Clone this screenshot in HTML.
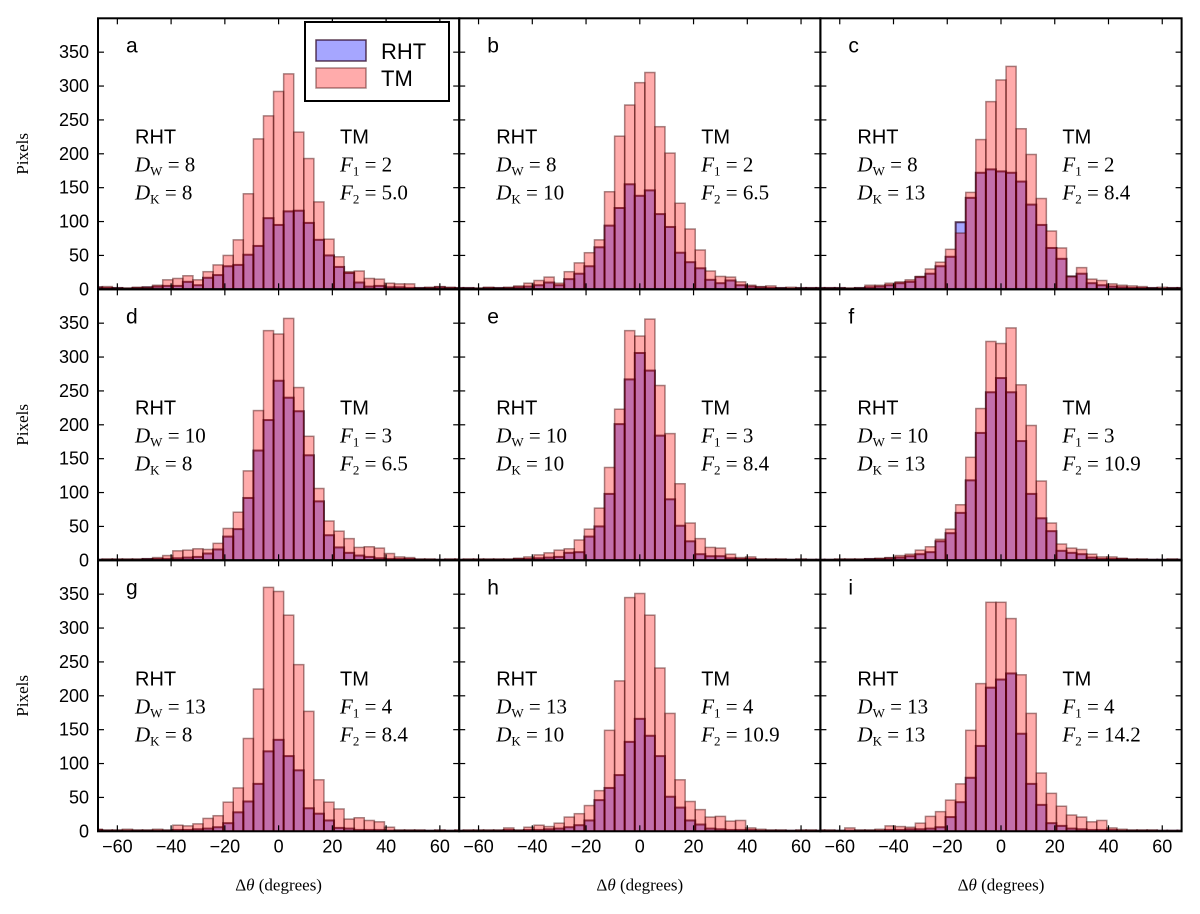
<!DOCTYPE html>
<html><head><meta charset="utf-8"><style>
html,body{margin:0;padding:0;background:#fff;}
svg{display:block;font-family:"Liberation Sans",sans-serif;}
</style></head><body>
<svg id="fig" width="1200" height="914" viewBox="0 0 1200 914" xmlns="http://www.w3.org/2000/svg"></svg>
<script>
const binCenters = Array.from({length:37},(_,i)=>(i-18)*3.75);
const tmA=[3,4,2,2,3,3,6,14,16,20,14,26,36,50,73,141,222,256,292,318,232,193,129,74,48,26,27,16,15,9,8,8,2,3,4,3,2];
const rhtA=[3,2,2,1,2,3,4,5,5,11,6,17,21,34,36,51,64,105,95,115,116,98,73,50,33,24,10,4,5,3,3,2,2,2,3,2,2];
const tmB=[2,2,2,3,2,3,5,9,13,18,9,26,39,54,73,144,226,272,305,320,240,201,127,89,58,27,19,18,11,6,4,5,2,3,2,2,2];
const rhtB=[2,2,1,2,2,2,3,4,6,10,6,15,23,34,62,94,120,155,138,146,111,92,54,40,31,14,9,13,6,4,3,2,2,1,2,2,2];
const tmC=[2,2,2,2,2,6,6,9,11,14,19,30,40,59,83,143,221,277,309,329,237,199,134,86,61,19,32,15,13,8,6,5,4,2,3,2,2];
const rhtC=[2,2,2,1,2,3,4,6,9,11,18,23,34,48,99,135,172,177,174,172,159,125,95,61,45,19,23,9,6,4,3,2,2,2,1,2,2];
const tmD=[1,2,2,2,2,2,4,7,14,15,17,16,25,47,71,132,221,339,334,357,255,183,106,58,43,32,19,20,18,10,5,4,2,2,1,2,2];
const rhtD=[1,1,1,1,1,2,2,2,3,4,5,10,16,35,46,92,162,207,265,240,220,155,87,37,19,11,7,5,3,2,2,2,1,1,1,1,1];
const tmE=[1,2,2,2,2,2,3,5,8,11,15,17,30,46,77,137,223,339,331,356,258,187,113,55,32,19,18,9,4,5,2,2,2,1,2,1,1];
const rhtE=[1,1,1,1,1,1,2,2,3,4,5,11,12,35,50,98,201,267,306,280,184,90,51,28,9,6,6,3,2,2,1,1,1,1,1,1,1];
const tmF=[1,1,2,2,2,2,3,4,7,9,15,20,31,46,82,152,224,323,320,343,259,199,117,55,24,18,16,9,5,5,3,2,2,1,1,2,1];
const rhtF=[1,1,1,1,1,2,2,3,4,6,9,12,28,40,70,118,188,248,269,248,176,98,62,43,14,11,9,4,2,2,2,1,1,1,1,1,1];
const tmG=[3,2,2,3,2,2,3,2,9,8,11,19,23,43,64,137,210,360,354,319,246,177,76,43,33,18,20,16,14,6,2,2,2,1,2,1,2];
const rhtG=[2,1,1,1,1,1,1,1,2,2,3,4,6,12,28,44,70,118,135,111,90,34,26,16,5,4,2,2,2,1,1,1,1,1,1,1,1];
const tmH=[1,2,2,2,2,5,2,6,9,7,12,21,26,38,60,149,222,345,351,319,241,174,76,44,32,21,22,15,16,5,3,2,2,1,2,2,1];
const rhtH=[1,1,1,1,1,2,1,2,2,3,4,6,9,16,46,64,83,132,166,141,111,51,35,16,10,4,3,2,2,2,1,1,1,1,1,1,1];
const tmI=[2,2,1,5,2,2,3,8,7,6,12,22,29,46,70,149,218,338,338,314,231,174,86,56,37,24,21,14,16,5,3,2,2,2,1,1,1];
const rhtI=[1,1,1,1,1,1,1,2,2,3,3,4,6,21,43,79,126,212,224,233,144,70,39,12,8,4,3,2,2,2,1,1,1,1,1,1,1];
const panelLetters=["a","b","c","d","e","f","g","h","i"];
const dW=["8","8","8","10","10","10","13","13","13"];
const dK=["8","10","13","8","10","13","8","10","13"];
const f1=["2","2","2","3","3","3","4","4","4"];
const f2=["5.0","6.5","8.4","6.5","8.4","10.9","8.4","10.9","14.2"];
const tmSeries=[tmA,tmB,tmC,tmD,tmE,tmF,tmG,tmH,tmI];
const rhtSeries=[rhtA,rhtB,rhtC,rhtD,rhtE,rhtF,rhtG,rhtH,rhtI];
const xTicks=[-60,-40,-20,0,20,40,60];
const yTicks=[0,50,100,150,200,250,300,350];

const NS="http://www.w3.org/2000/svg";
const svg=document.getElementById('fig');
function mk(tag,attrs,parent){const e=document.createElementNS(NS,tag);for(const k in attrs)e.setAttribute(k,attrs[k]);(parent||svg).appendChild(e);return e;}
const L0=98,PW=361.2,T0=18.3,PH=271,BW=3.75,XMIN=-67.2,XMAX=67.2,YMAX=400;
const defs=mk('defs',{});
for(let p=0;p<9;p++){
  const col=p%3,row=Math.floor(p/3);
  const left=L0+col*PW,top=T0+row*PH;
  const xs=v=>left+(v-XMIN)/(XMAX-XMIN)*PW;
  const ys=v=>top+PH-v/YMAX*PH;
  const cp=mk('clipPath',{id:'cp'+p},defs);
  mk('rect',{x:left,y:top,width:PW,height:PH},cp);
  const g=mk('g',{'clip-path':'url(#cp'+p+')'});
  
  
  const rh=rhtSeries[p],tm=tmSeries[p];
  binCenters.forEach((c,i)=>{
    const r=mk('rect',{x:xs(c-BW/2),y:ys(rh[i]),width:xs(c+BW/2)-xs(c-BW/2),height:ys(0)-ys(rh[i]),fill:'rgba(0,0,255,0.35)',stroke:'rgba(40,0,30,0.75)','stroke-width':2},g);
    
    
  });
  binCenters.forEach((c,i)=>{
    const r=mk('rect',{x:xs(c-BW/2),y:ys(tm[i]),width:xs(c+BW/2)-xs(c-BW/2),height:ys(0)-ys(tm[i]),fill:'rgba(255,0,0,0.33)',stroke:'rgba(60,0,0,0.45)','stroke-width':1.5},g);
    
    
  });
  xTicks.forEach(t=>{
    mk('line',{x1:xs(t),x2:xs(t),y1:top+PH,y2:top+PH-6,stroke:'#000','stroke-width':1.2});
    mk('line',{x1:xs(t),x2:xs(t),y1:top,y2:top+6,stroke:'#000','stroke-width':1.2});
    if(row===2){const tx=mk('text',{x:xs(t),y:top+PH+21,'text-anchor':'middle','font-size':18});tx.textContent=(t<0?'\u2212':'')+Math.abs(t);
      }
  });
  yTicks.forEach(t=>{
    mk('line',{x1:left,x2:left+6,y1:ys(t),y2:ys(t),stroke:'#000','stroke-width':1.2});
    mk('line',{x1:left+PW,x2:left+PW-6,y1:ys(t),y2:ys(t),stroke:'#000','stroke-width':1.2});
    if(col===0){const tx=mk('text',{x:left-9,y:ys(t)+6,'text-anchor':'end','font-size':18});tx.textContent=t;
      }
  });
  const fr=mk('rect',{x:left,y:top,width:PW,height:PH,fill:'none',stroke:'#000','stroke-width':2});
  
  const lt=mk('text',{x:left+28,y:top+34,'font-size':21});lt.textContent=panelLetters[p];
  
  const r1=mk('text',{x:left+37,y:top+125,'font-size':20});r1.textContent='RHT';
  
  const t1=mk('text',{x:left+242,y:top+125,'font-size':20});t1.textContent='TM';
  
  const addEq=(x,y,sym,sub,val,nm)=>{
    const t=mk('text',{x:x,y:y,'font-size':21,'font-family':'"Liberation Serif",serif'});
    
    const a=mk('tspan',{'font-style':'italic'},t);a.textContent=sym;
    const b=mk('tspan',{'font-size':13,dy:4},t);b.textContent=sub;
    const c=mk('tspan',{dy:-4},t);c.textContent=' = '+val;
  };
  addEq(left+37,top+153,'D','W',dW[p],'dw-label');
  addEq(left+37,top+181,'D','K',dK[p],'dk-label');
  addEq(left+242,top+153,'F','1',f1[p],'f1-label');
  addEq(left+242,top+181,'F','2',f2[p],'f2-label');
  if(row===2){const xl=mk('text',{x:left+PW/2,y:top+PH+59,'text-anchor':'middle','font-size':17,'font-family':'"Liberation Serif",serif'});
    
    xl.innerHTML='\u0394<tspan font-style="italic">\u03b8</tspan> (degrees)';}
  if(col===0){const yl=mk('text',{x:0,y:0,'text-anchor':'middle','font-size':17,'font-family':'"Liberation Serif",serif',transform:'translate(28,'+(top+PH/2)+') rotate(-90)'});
    yl.textContent='Pixels';}
}
const lg=mk('g',{});


mk('rect',{x:305,y:22,width:144,height:79,fill:'#fff',stroke:'#000','stroke-width':2},lg);
mk('rect',{x:316,y:40,width:50,height:21,fill:'rgba(0,0,255,0.35)',stroke:'rgba(40,0,30,0.75)','stroke-width':1.5},lg);
mk('rect',{x:316,y:68,width:50,height:20,fill:'rgba(255,0,0,0.33)',stroke:'rgba(60,0,0,0.45)','stroke-width':1.5},lg);
const l1=mk('text',{x:381,y:59,'font-size':22},lg);l1.textContent='RHT';

const l2=mk('text',{x:381,y:86,'font-size':22},lg);l2.textContent='TM';

</script>
</body></html>
